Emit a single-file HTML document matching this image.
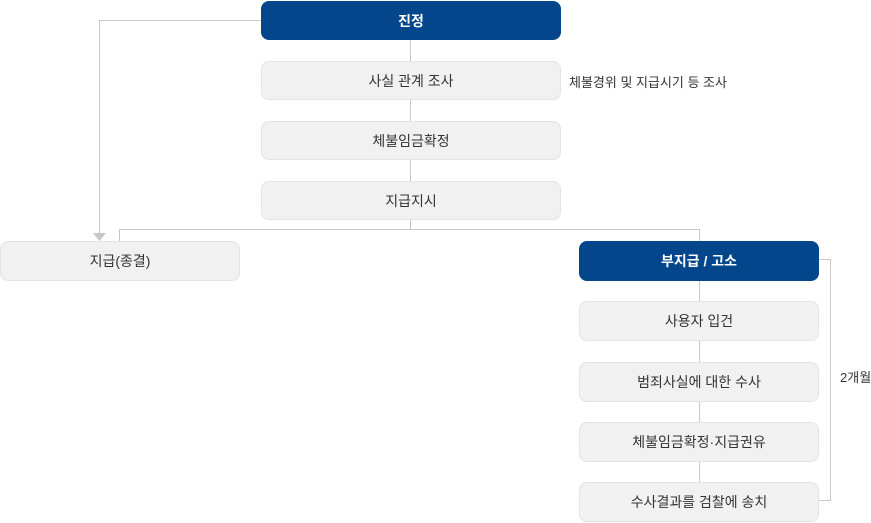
<!DOCTYPE html>
<html><head><meta charset="utf-8"><style>
body{margin:0;width:871px;height:523px;background:#fff;position:relative;font-family:"Liberation Sans","Noto Sans CJK KR",sans-serif;overflow:hidden}
.b{position:absolute;box-sizing:border-box;border-radius:8px;background:#f1f1f1;border:1px solid #e4e4e4;color:#333;font-size:14px;display:flex;align-items:center;justify-content:center}
.d{background:#03468c;border-color:#03468c;color:#fff;font-weight:bold}
.t{position:absolute;font-size:13px;color:#333;white-space:nowrap}
</style></head><body>
<svg width="871" height="523" style="position:absolute;left:0;top:0">
<g stroke="#c8c8c8" stroke-width="1" fill="none">
<path d="M410.5 39V229.5M119.5 241V229.5H699.5V241M261 20.5H99.5V233"/>
<path d="M699.5 280V482"/>
<path d="M818 259.5H830.5V500.5H818"/>
</g>
<polygon points="93,233 106,233 99.5,241" fill="#c8c8c8"/>
</svg>
<div class="b d" style="left:261px;top:1px;width:300px;height:39px">진정</div>
<div class="b" style="left:261px;top:61px;width:300px;height:39px">사실 관계 조사</div>
<div class="b" style="left:261px;top:121px;width:300px;height:39px">체불임금확정</div>
<div class="b" style="left:261px;top:181px;width:300px;height:39px">지급지시</div>
<div class="b" style="left:0px;top:241px;width:240px;height:40px">지급(종결)</div>
<div class="b d" style="left:579px;top:241px;width:240px;height:40px">부지급 / 고소</div>
<div class="b" style="left:579px;top:301px;width:240px;height:40px">사용자 입건</div>
<div class="b" style="left:579px;top:362px;width:240px;height:40px">범죄사실에 대한 수사</div>
<div class="b" style="left:579px;top:422px;width:240px;height:40px">체불임금확정·지급권유</div>
<div class="b" style="left:579px;top:482px;width:240px;height:40px">수사결과를 검찰에 송치</div>
<div class="t" style="left:569px;top:72px">체불경위 및 지급시기 등 조사</div>
<div class="t" style="left:840px;top:367px">2개월</div>
</body></html>
